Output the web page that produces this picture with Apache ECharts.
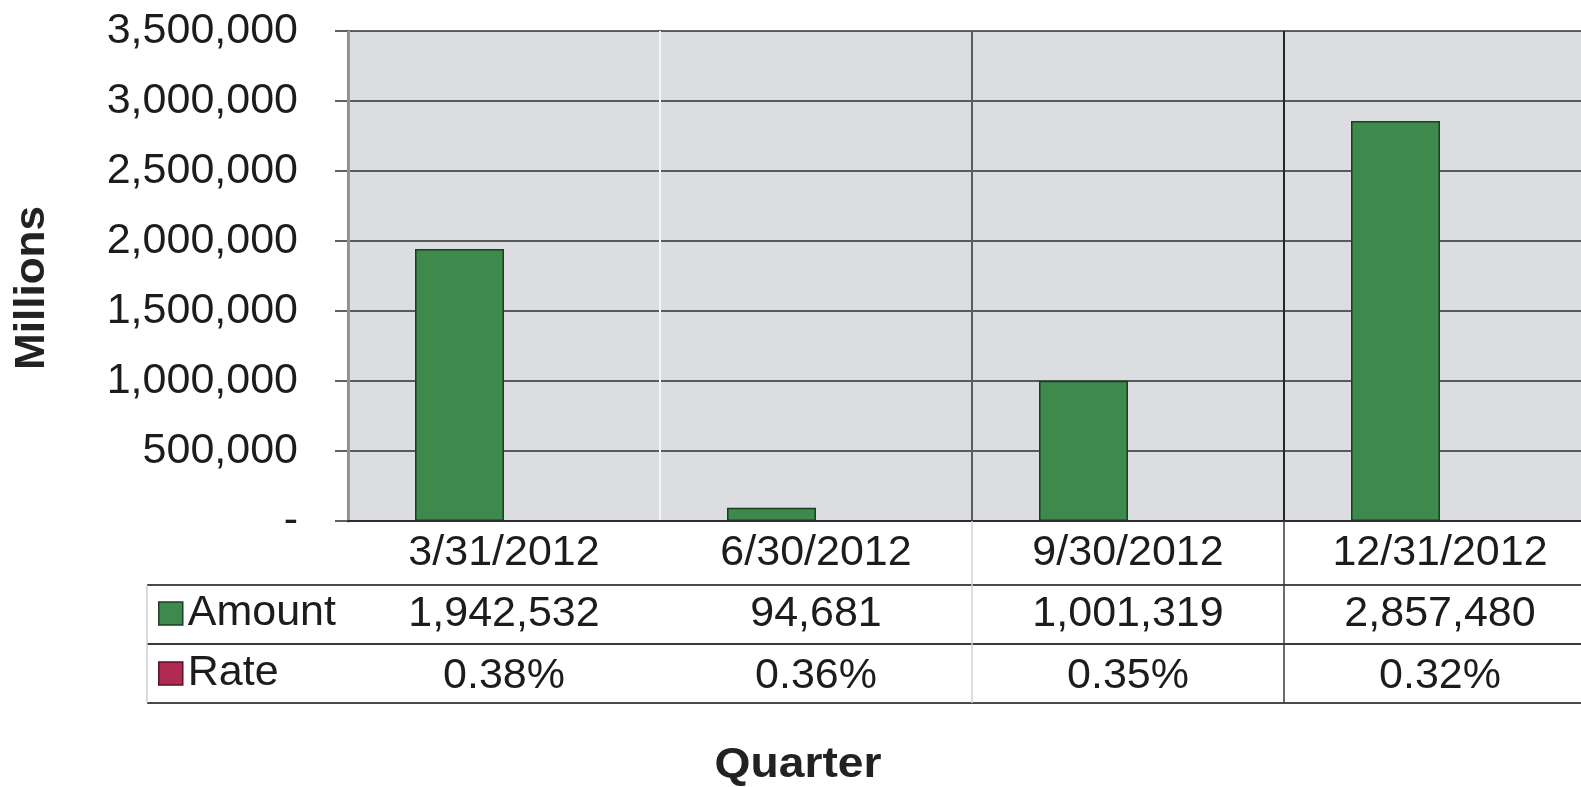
<!DOCTYPE html>
<html>
<head>
<meta charset="utf-8">
<title>Amount and Rate by Quarter</title>
<script src="https://cdn.jsdelivr.net/npm/echarts@6/dist/echarts.min.js"></script>
<style>
  html, body { margin: 0; padding: 0; background: #ffffff; overflow: hidden; }
  /* canvas is a little wider than the window so the last column runs off the right edge */
  #chart { width: 1600px; height: 787px; }
</style>
</head>
<body>
<div id="chart"></div>
<script>
// Quarter-end dates
const quarters = ['3/31/2012', '6/30/2012', '9/30/2012', '12/31/2012'];
// Amount, in millions
const amounts = [1942532, 94681, 1001319, 2857480];
// Rate, in percent
const rates = [0.38, 0.36, 0.35, 0.32];
// Value axis range
const yMax = 3500000;
const yStep = 500000;

const FONT = '"Liberation Sans", Arial, sans-serif';
const TEXT = '#1c1c1c';
const GREEN = '#3d8a4c';
const GREEN_EDGE = '#1f3d25';
const CRIMSON = '#b02a52';
const CRIMSON_EDGE = '#5a1026';

// Plot frame
const GRID_LEFT = 348, GRID_TOP = 31, GRID_H = 490, GRID_W = 1248;
const AXIS_Y = GRID_TOP + GRID_H;
const COL_W = GRID_W / quarters.length;
// Data table rows under the axis
const ROW1 = 585, ROW2 = 644, ROW3 = 703, TABLE_LEFT = 147, TABLE_RIGHT = 1600;

const fmtNum = v => v.toLocaleString('en-US');
const fmtPct = v => v.toFixed(2) + '%';

const chart = echarts.init(document.getElementById('chart'), null, { renderer: 'canvas' });

const hLine = (y, color) => ({
  type: 'line', silent: true, z: 10,
  shape: { x1: TABLE_LEFT, y1: y, x2: TABLE_RIGHT, y2: y },
  style: { stroke: color, lineWidth: 2 }
});
const vLine = (x, y1, y2, color, w) => ({
  type: 'line', silent: true, z: 10,
  shape: { x1: x, y1: y1, x2: x, y2: y2 },
  style: { stroke: color, lineWidth: w }
});

const labelBase = { fontFamily: FONT, fontSize: 43, lineHeight: 43, color: TEXT };

chart.setOption({
  animation: false,
  backgroundColor: '#ffffff',
  grid: {
    left: GRID_LEFT, top: GRID_TOP, width: GRID_W, height: GRID_H,
    show: true, backgroundColor: '#dcdde0', borderWidth: 0
  },
  legend: {
    orient: 'vertical',
    left: 158, top: 592, padding: 0,
    itemWidth: 24, itemHeight: 23, itemGap: 17, itemTextGap: 13,
    icon: 'rect',
    selectedMode: false,
    textStyle: { fontFamily: FONT, fontSize: 43, lineHeight: 43, color: TEXT },
    data: [
      { name: 'Amount', itemStyle: { color: GREEN, borderColor: GREEN_EDGE, borderWidth: 1.5 } },
      { name: 'Rate', itemStyle: { color: CRIMSON, borderColor: CRIMSON_EDGE, borderWidth: 1.5 } }
    ]
  },
  xAxis: [
    {
      type: 'category', data: quarters, position: 'bottom',
      axisLine: { show: true, lineStyle: { color: '#2e2e2e', width: 2 } },
      axisTick: { show: false },
      axisLabel: Object.assign({ margin: 11 }, labelBase),
      splitLine: {
        show: true,
        lineStyle: { color: ['#8e8e8e', '#f4f4f4', '#5c5c5c', '#262626', '#262626'], width: 2 }
      },
      z: 5
    },
    {
      type: 'category', data: amounts.map(fmtNum), position: 'bottom', offset: ROW1 - AXIS_Y,
      axisLine: { show: false }, axisTick: { show: false },
      axisLabel: Object.assign({ margin: 8 }, labelBase)
    },
    {
      type: 'category', data: rates.map(fmtPct), position: 'bottom', offset: ROW2 - AXIS_Y,
      axisLine: { show: false }, axisTick: { show: false },
      axisLabel: Object.assign({ margin: 11 }, labelBase)
    }
  ],
  yAxis: {
    type: 'value', min: 0, max: yMax, interval: yStep,
    axisLine: { show: true, lineStyle: { color: '#9a9a9a', width: 3 } },
    axisTick: { show: true, inside: false, length: 13, lineStyle: { color: '#2e2e2e', width: 1.5 } },
    axisLabel: Object.assign({}, labelBase, {
      margin: 50,
      formatter: v => (v === 0 ? '-' : fmtNum(v))
    }),
    splitLine: { show: true, lineStyle: { color: '#2e2e2e', width: 1.5 } }
  },
  series: [
    {
      name: 'Amount', type: 'bar', xAxisIndex: 0, data: amounts,
      barWidth: 89, barGap: '0%',
      itemStyle: { color: GREEN, borderColor: GREEN_EDGE, borderWidth: 1.5 },
      z: 3
    },
    {
      name: 'Rate', type: 'bar', xAxisIndex: 0, data: rates,
      barWidth: 89, barGap: '0%',
      itemStyle: { color: CRIMSON, borderWidth: 0 },
      z: 3
    }
  ],
  graphic: [
    hLine(ROW1, '#4a4a4a'),
    hLine(ROW2, '#3a3a3a'),
    hLine(ROW3, '#4a4a4a'),
    vLine(TABLE_LEFT, ROW1, ROW3, '#cfcfcf', 1.5),
    vLine(GRID_LEFT + COL_W * 2, AXIS_Y, ROW3, '#d2d2d2', 1.5),
    vLine(GRID_LEFT + COL_W * 3, AXIS_Y, ROW3, '#3a3a3a', 1.5),
    {
      type: 'text', silent: true, x: 32, y: 288, rotation: Math.PI / 2,
      scaleX: 1.05,
      style: {
        text: 'Millions', fontFamily: FONT, fontSize: 42, fontWeight: 'bold',
        fill: '#222222', align: 'center', verticalAlign: 'middle'
      }
    },
    {
      type: 'text', silent: true, x: 798, y: 765,
      scaleX: 1.1,
      style: {
        text: 'Quarter', fontFamily: FONT, fontSize: 42, fontWeight: 'bold',
        fill: '#222222', align: 'center', verticalAlign: 'middle'
      }
    }
  ]
});
</script>
</body>
</html>
